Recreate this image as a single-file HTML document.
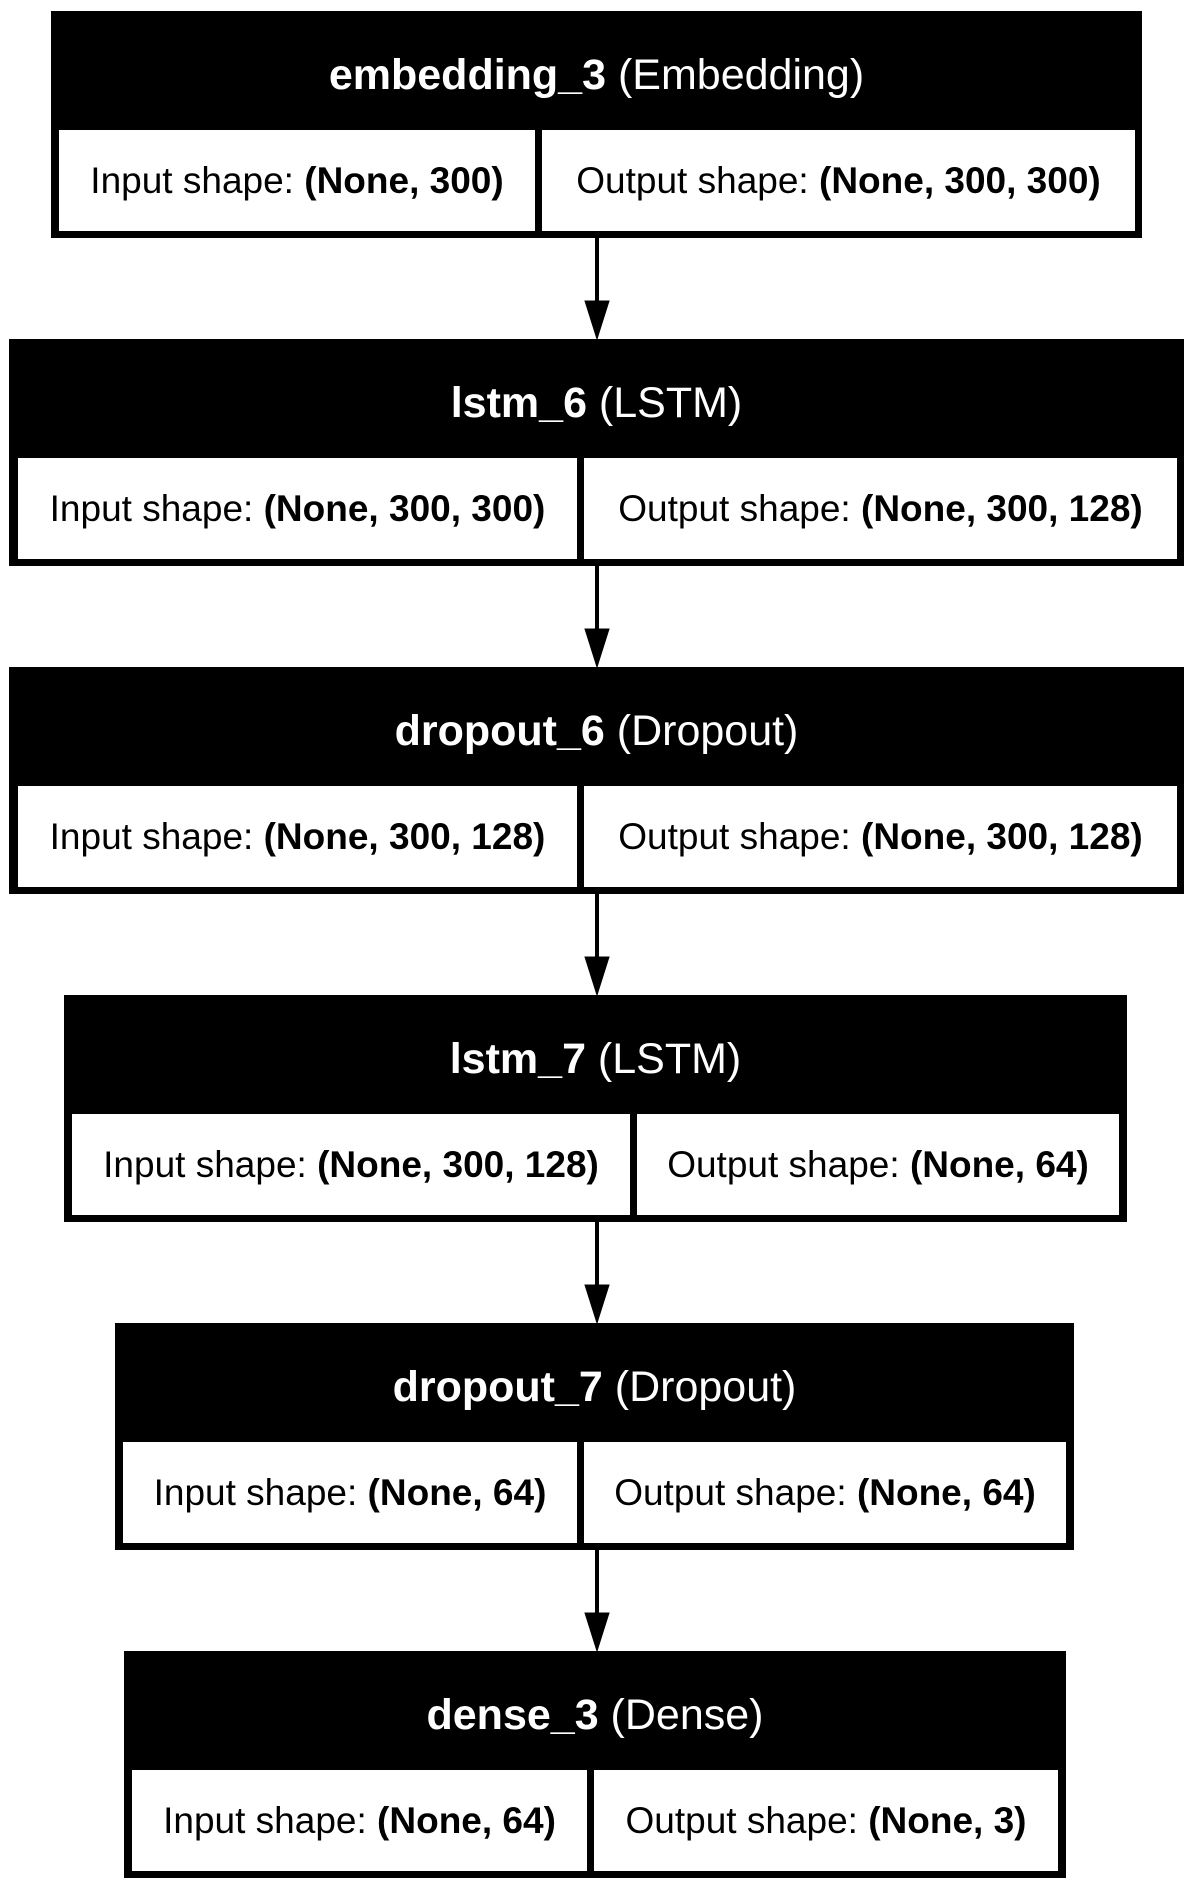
<!DOCTYPE html>
<html><head><meta charset="utf-8"><style>
body{margin:0;background:#fff;width:1194px;height:1889px;position:relative;overflow:hidden;font-family:"Liberation Sans",Arial,sans-serif}
.box{position:absolute;background:#000;height:227px}
.title{position:absolute;left:0;right:0;top:0;height:119px;line-height:128px;text-align:center;color:#fff;font-size:43px;white-space:nowrap}
.cell{position:absolute;top:119px;height:101px;line-height:101px;background:#fff;text-align:center;font-size:37px;color:#000;white-space:nowrap}
</style></head><body>
<svg style="position:absolute;left:0;top:0" width="1194" height="1889">
<g fill="#000" stroke="#000">
<line x1="597" y1="238" x2="597" y2="305" stroke-width="4"/><polygon points="585,301 609,301 597,339"/>
<line x1="597" y1="566" x2="597" y2="633" stroke-width="4"/><polygon points="585,629 609,629 597,667"/>
<line x1="597" y1="894" x2="597" y2="961" stroke-width="4"/><polygon points="585,957 609,957 597,995"/>
<line x1="597" y1="1222" x2="597" y2="1289" stroke-width="4"/><polygon points="585,1285 609,1285 597,1323"/>
<line x1="597" y1="1550" x2="597" y2="1617" stroke-width="4"/><polygon points="585,1613 609,1613 597,1651"/>
</g></svg>

<div class="box" style="left:51px;top:11px;width:1091px">
<div class="title"><b>embedding_3</b> (Embedding)</div>
<div class="cell" style="left:8px;width:476px">Input shape: <b>(None, 300)</b></div>
<div class="cell" style="left:491px;width:593px">Output shape: <b>(None, 300, 300)</b></div>
</div>

<div class="box" style="left:9px;top:339px;width:1175px">
<div class="title"><b>lstm_6</b> (LSTM)</div>
<div class="cell" style="left:9px;width:559px">Input shape: <b>(None, 300, 300)</b></div>
<div class="cell" style="left:575px;width:593px">Output shape: <b>(None, 300, 128)</b></div>
</div>

<div class="box" style="left:9px;top:667px;width:1175px">
<div class="title"><b>dropout_6</b> (Dropout)</div>
<div class="cell" style="left:9px;width:559px">Input shape: <b>(None, 300, 128)</b></div>
<div class="cell" style="left:575px;width:593px">Output shape: <b>(None, 300, 128)</b></div>
</div>

<div class="box" style="left:64px;top:995px;width:1063px">
<div class="title"><b>lstm_7</b> (LSTM)</div>
<div class="cell" style="left:8px;width:558px">Input shape: <b>(None, 300, 128)</b></div>
<div class="cell" style="left:573px;width:482px">Output shape: <b>(None, 64)</b></div>
</div>

<div class="box" style="left:115px;top:1323px;width:959px">
<div class="title"><b>dropout_7</b> (Dropout)</div>
<div class="cell" style="left:8px;width:454px">Input shape: <b>(None, 64)</b></div>
<div class="cell" style="left:469px;width:482px">Output shape: <b>(None, 64)</b></div>
</div>

<div class="box" style="left:124px;top:1651px;width:942px">
<div class="title"><b>dense_3</b> (Dense)</div>
<div class="cell" style="left:8px;width:455px">Input shape: <b>(None, 64)</b></div>
<div class="cell" style="left:470px;width:464px">Output shape: <b>(None, 3)</b></div>
</div>
</body></html>
